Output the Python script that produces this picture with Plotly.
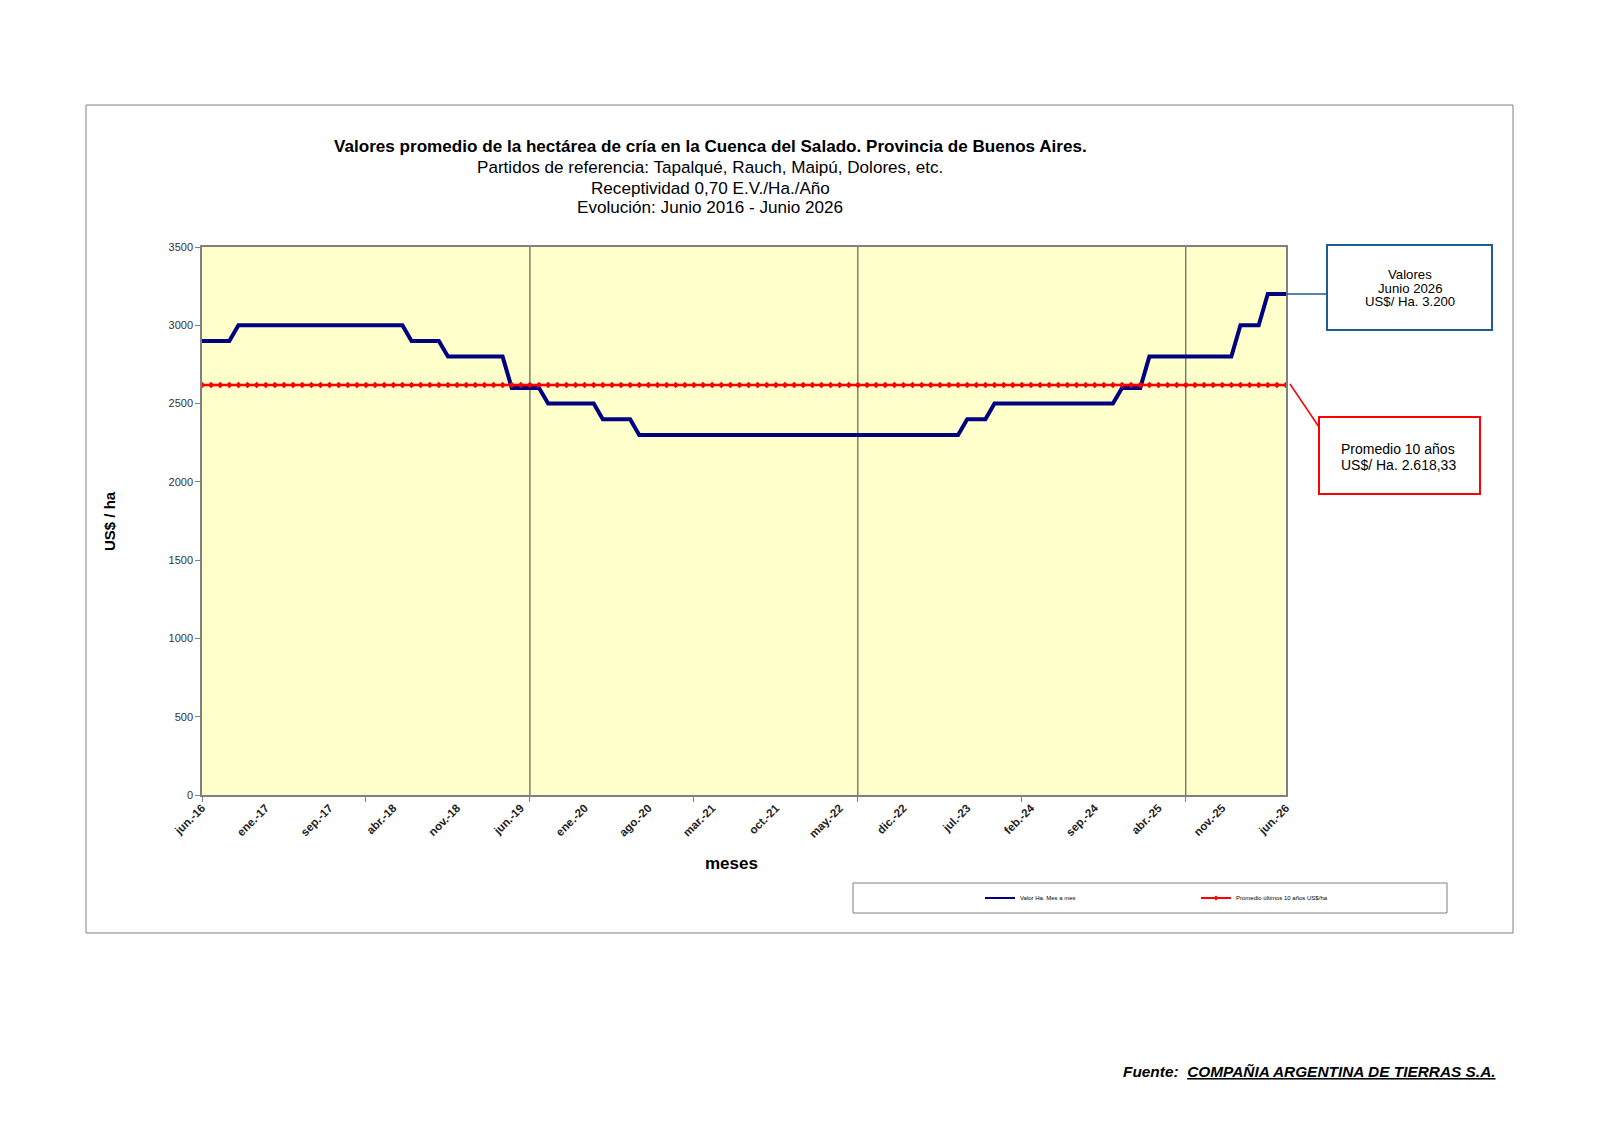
import plotly.graph_objects as go

# valor de la hectarea, mes a mes (jun-16 .. jun-26, 120 puntos)
valor_ha = [
    2900, 2900, 2900, 2900, 3000, 3000, 3000, 3000, 3000, 3000,
    3000, 3000, 3000, 3000, 3000, 3000, 3000, 3000, 3000, 3000,
    3000, 3000, 3000, 2900, 2900, 2900, 2900, 2800, 2800, 2800,
    2800, 2800, 2800, 2800, 2600, 2600, 2600, 2600, 2500, 2500,
    2500, 2500, 2500, 2500, 2400, 2400, 2400, 2400, 2300, 2300,
    2300, 2300, 2300, 2300, 2300, 2300, 2300, 2300, 2300, 2300,
    2300, 2300, 2300, 2300, 2300, 2300, 2300, 2300, 2300, 2300,
    2300, 2300, 2300, 2300, 2300, 2300, 2300, 2300, 2300, 2300,
    2300, 2300, 2300, 2300, 2400, 2400, 2400, 2500, 2500, 2500,
    2500, 2500, 2500, 2500, 2500, 2500, 2500, 2500, 2500, 2500,
    2500, 2600, 2600, 2600, 2800, 2800, 2800, 2800, 2800, 2800,
    2800, 2800, 2800, 2800, 3000, 3000, 3000, 3200, 3200, 3200,
]
promedio = 2618.33
promedio_ha = [promedio] * len(valor_ha)

etiquetas = ["jun.-16", "ene.-17", "sep.-17", "abr.-18", "nov.-18", "jun.-19",
             "ene.-20", "ago.-20", "mar.-21", "oct.-21", "may.-22", "dic.-22",
             "jul.-23", "feb.-24", "sep.-24", "abr.-25", "nov.-25", "jun.-26"]

titulo = ["<b>Valores promedio de la hectárea de cría en la Cuenca del Salado. Provincia de Buenos Aires.</b>",
          "Partidos de referencia: Tapalqué, Rauch, Maipú, Dolores, etc.",
          "Receptividad 0,70 E.V./Ha./Año",
          "Evolución: Junio 2016 - Junio 2026"]
caja_valor = ["Valores", "Junio 2026", "US$/ Ha. 3.200"]
caja_promedio = ["Promedio 10 años", "US$/ Ha. 2.618,33"]

meses = list(range(len(valor_ha)))
FONT = "Arial, 'Liberation Sans', sans-serif"
AZUL = "#000080"
ROJO = "#FF0000"
CAJA_AZUL = "#1F5C8F"

# page pixels (the html body has an 8px margin, so the figure starts at 8,8)
OFF = 8
W, H = 1600 - 2 * OFF, 1131 - 2 * OFF
L, R, T, B = 202, 1286, 247, 795


def px(x):
    return (x - L) / (R - L)


def py(y):
    return (B - y) / (B - T)


fig = go.Figure()
fig.add_trace(go.Scatter(x=meses, y=valor_ha, mode="lines", showlegend=False,
                         line=dict(color=AZUL, width=4)))
fig.add_trace(go.Scatter(x=meses, y=promedio_ha, mode="lines+markers", showlegend=False,
                         line=dict(color=ROJO, width=2.5),
                         marker=dict(symbol="diamond", size=5, color=ROJO)))
# legend entries with thinner samples, like the original
fig.add_trace(go.Scatter(x=[None], y=[None], mode="lines", name="Valor Ha. Mes a mes",
                         line=dict(color=AZUL, width=2)))
fig.add_trace(go.Scatter(x=[None], y=[None], mode="lines+markers",
                         name="Promedio últimos 10 años US$/ha",
                         line=dict(color=ROJO, width=2),
                         marker=dict(symbol="diamond", size=4, color=ROJO)))

for xv in [36, 72, 108]:
    fig.add_shape(type="line", x0=xv, x1=xv, y0=0, y1=3500, xref="x", yref="y",
                  line=dict(color="#404040", width=1), layer="below")

shapes = [
    # marco exterior
    dict(x0=px(86), x1=px(1513), y0=py(105), y1=py(933), line=dict(color="#808080", width=1)),
    # cuadro de leyenda
    dict(x0=px(853), x1=px(1447), y0=py(883), y1=py(913), line=dict(color="#808080", width=1)),
    # cuadros de valores
    dict(x0=px(1327), x1=px(1492), y0=py(245), y1=py(330), line=dict(color=CAJA_AZUL, width=2)),
    dict(x0=px(1319), x1=px(1480), y0=py(417), y1=py(494), line=dict(color=ROJO, width=2)),
]
for s in shapes:
    fig.add_shape(type="rect", xref="paper", yref="paper", fillcolor="rgba(0,0,0,0)", **s)

fig.add_shape(type="line", xref="paper", yref="paper", x0=px(1286), x1=px(1327),
              y0=py(294), y1=py(294), line=dict(color=CAJA_AZUL, width=1.5))
fig.add_shape(type="line", xref="paper", yref="paper", x0=px(1290), x1=px(1319),
              y0=py(384), y1=py(427), line=dict(color=ROJO, width=1.5))


def texto(x, y, txt, size, **kw):
    fig.add_annotation(x=px(x), y=py(y), xref="paper", yref="paper", showarrow=False,
                       text=txt, xanchor=kw.pop("xanchor", "center"), yanchor="middle",
                       font=dict(family=FONT, size=size, color="black"), **kw)


for linea, yy in zip(titulo, [147, 167.5, 188, 207.5]):
    texto(710, yy, linea, 17.1)
for linea, yy in zip(caja_valor, [274.5, 288, 301]):
    texto(1410, yy, linea, 13.2)
for linea, yy in zip(caja_promedio, [449, 465]):
    texto(1398, yy, linea, 14)
texto(731, 863, "<b>meses</b>", 17)
texto(109, 521, "<b>US$ / ha</b>", 15, textangle=-90)
texto(1498, 1071, "<b><i>Fuente:  <u>COMPAÑIA ARGENTINA DE TIERRAS S.A.</u></i></b>", 15.4,
      xanchor="right")

fig.update_layout(
    width=W, height=H,
    margin=dict(l=L - OFF, r=W - (R - OFF), t=T - OFF, b=H - (B - OFF), pad=0),
    paper_bgcolor="white",
    plot_bgcolor="#FFFFCC",
    font=dict(family=FONT),
    showlegend=True,
    legend=dict(orientation="h", x=px(980), y=py(898), xanchor="left", yanchor="middle",
                font=dict(family=FONT, size=6, color="black"), bgcolor="rgba(0,0,0,0)",
                entrywidth=171, entrywidthmode="pixels"),
)
fig.update_xaxes(range=[0, 119], tickvals=list(range(0, 120, 7)), ticktext=etiquetas,
                 tickangle=-45, ticks="", showgrid=False, zeroline=False,
                 showline=True, linecolor="#808080", linewidth=1.5, mirror=True,
                 tickfont=dict(family=FONT, size=11.5, color="#222222", weight="bold"),
                 minor=dict(tick0=0, dtick=18, ticks="outside", ticklen=5,
                            tickcolor="#808080", showgrid=False))
fig.update_yaxes(range=[0, 3500], dtick=500, ticks="outside", ticklen=5, tickcolor="#808080",
                 showgrid=False, zeroline=False, showline=True, linecolor="#808080",
                 linewidth=1.5, mirror=True,
                 tickfont=dict(family=FONT, size=11, color="#333333"))

fig.write_html("out.html")
